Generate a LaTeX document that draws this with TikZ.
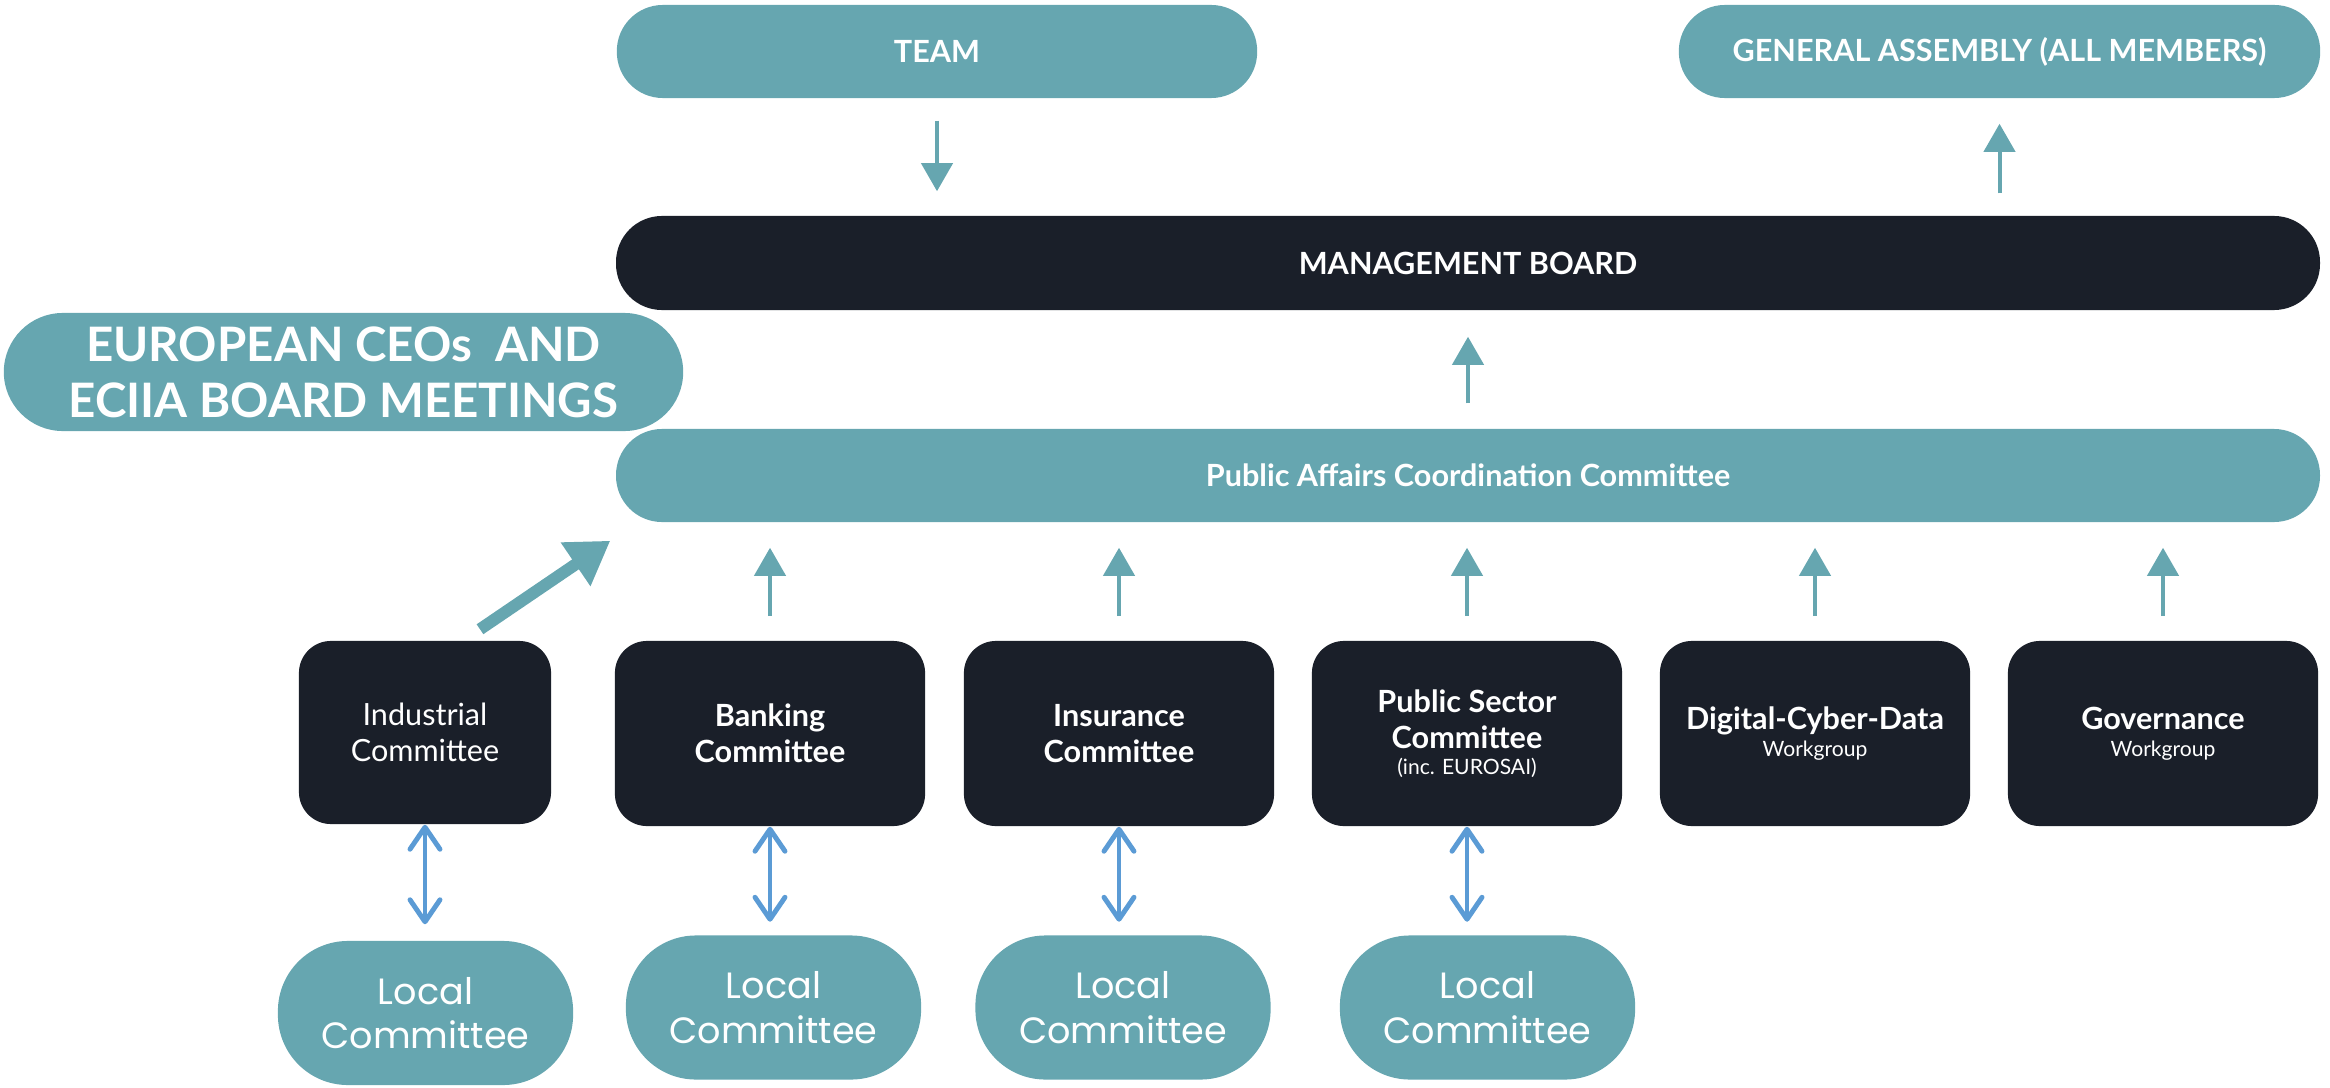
\documentclass[tikz,border=0pt]{standalone}
\usepackage{fontspec}
\setmainfont{Lato}
\newfontfamily\localfont{Poppins}
\usepackage{xcolor}
\usetikzlibrary{positioning, shapes, arrows.meta, calc, fit}

\definecolor{tealbox}{HTML}{66A6B0}
\definecolor{darkbox}{HTML}{1A1F29}
\definecolor{linkblue}{HTML}{5B9BD5}

\begin{document}
\begin{tikzpicture}[x=0.01cm, y=-0.01cm,
  every node/.style={rectangle, inner sep=0pt, align=center, text=white},
  pill/.style={fill=tealbox, rounded corners=0.46cm, minimum height=0.93cm, font=\bfseries\fontsize{8.7}{10.3}\selectfont},
  darkpill/.style={fill=darkbox, rounded corners=0.46cm, minimum height=0.94cm, font=\bfseries\fontsize{8.7}{10.3}\selectfont},
  committee/.style={fill=darkbox, rounded corners=0.32cm, minimum width=3.1cm, minimum height=1.85cm, font=\bfseries\fontsize{8.7}{10.3}\selectfont},
  localbox/.style={fill=tealbox, rounded corners=0.7cm, minimum width=2.95cm, minimum height=1.44cm, font=\localfont\fontsize{10.4}{12.6}\selectfont},
  uparrow/.style={draw=tealbox, line width=1.15pt, -{Triangle[length=0.28cm, width=0.31cm]}},
  linkarrow/.style={draw=linkblue, line width=1.4pt, {Straight Barb[length=0.22cm, width=0.3cm, round]}-{Straight Barb[length=0.22cm, width=0.3cm, round]}}]

\useasboundingbox (0, 0) rectangle (2330, 1088);

% Top row
\node[pill, minimum width=6.4cm] (team) at (937, 51.5) {TEAM};
\node[pill, minimum width=6.41cm] (assembly) at (1999.5, 51.5) {GENERAL ASSEMBLY (ALL MEMBERS)};
\node[darkpill, minimum width=17.03cm] (board) at (1468, 263) {MANAGEMENT BOARD};

% Middle row
\node[pill, minimum width=6.79cm, minimum height=1.18cm, rounded corners=0.59cm, font=\bfseries\fontsize{13.5}{16}\selectfont] (ceos) at (343.5, 372) {EUROPEAN CEOs\ \ AND\\ECIIA BOARD MEETINGS};
\node[pill, minimum width=17.03cm] (pacc) at (1468, 475.5) {Public Affairs Coordination Committee};

% Committees and workgroups
\node[committee, minimum width=2.52cm, minimum height=1.83cm, font=\fontsize{8.7}{10.3}\selectfont] (industrial) at (425, 732.5) {Industrial\\Committee};
\node[committee] (banking) at (770, 733.5) {Banking\\Committee};
\node[committee] (insurance) at (1119, 733.5) {Insurance\\Committee};
\node[committee] (pub_sector) at (1467, 733.5) {Public Sector\\Committee\\[-3pt]{\mdseries\fontsize{6}{7}\selectfont (inc. EUROSAI)}};
\node[committee] (digital) at (1815, 733.5) {Digital-Cyber-Data\\[-2.5pt]{\mdseries\fontsize{6}{7}\selectfont Workgroup}};
\node[committee] (governance) at (2163, 733.5) {Governance\\[-2.5pt]{\mdseries\fontsize{6}{7}\selectfont Workgroup}};

% Local committees
\node[localbox] (local_ind) at (425.5, 1013) {Local\\Committee};
\node[localbox] (local_bank) at (773.5, 1007.5) {Local\\Committee};
\node[localbox] (local_ins) at (1123, 1007.5) {Local\\Committee};
\node[localbox] (local_pub) at (1487.5, 1007.5) {Local\\Committee};

% Arrows between the top rows
\draw[uparrow, shorten <=0.22cm, shorten >=0.24cm] (team) -- (team |- board.north);
\draw[uparrow, shorten <=0.22cm, shorten >=0.25cm] (assembly.south |- board.north) -- (assembly);
\draw[uparrow, shorten <=0.25cm, shorten >=0.26cm] (pacc) -- (board);
\draw[draw=tealbox, line width=3.4pt, -{Triangle[length=0.42cm, width=0.5cm]}] ($(industrial.north)+(55,-11)$) -- ($(pacc.south west)+(-5,18)$);

% Committees up to coordination committee
\foreach \n in {banking, insurance, pub_sector, digital, governance}
  \draw[uparrow, shorten <=0.24cm, shorten >=0.25cm] (\n.north) -- (\n.north |- pacc.south);

% Links to local committees
\draw[linkarrow, shorten >=0.16cm] (industrial.south) -- (industrial.south |- local_ind.north);
\draw[linkarrow, shorten >=0.13cm] (banking.south) -- (banking.south |- local_bank.north);
\draw[linkarrow, shorten >=0.13cm] (insurance.south) -- (insurance.south |- local_ins.north);
\draw[linkarrow, shorten >=0.13cm] (pub_sector.south) -- (pub_sector.south |- local_pub.north);

\end{tikzpicture}
\end{document}
